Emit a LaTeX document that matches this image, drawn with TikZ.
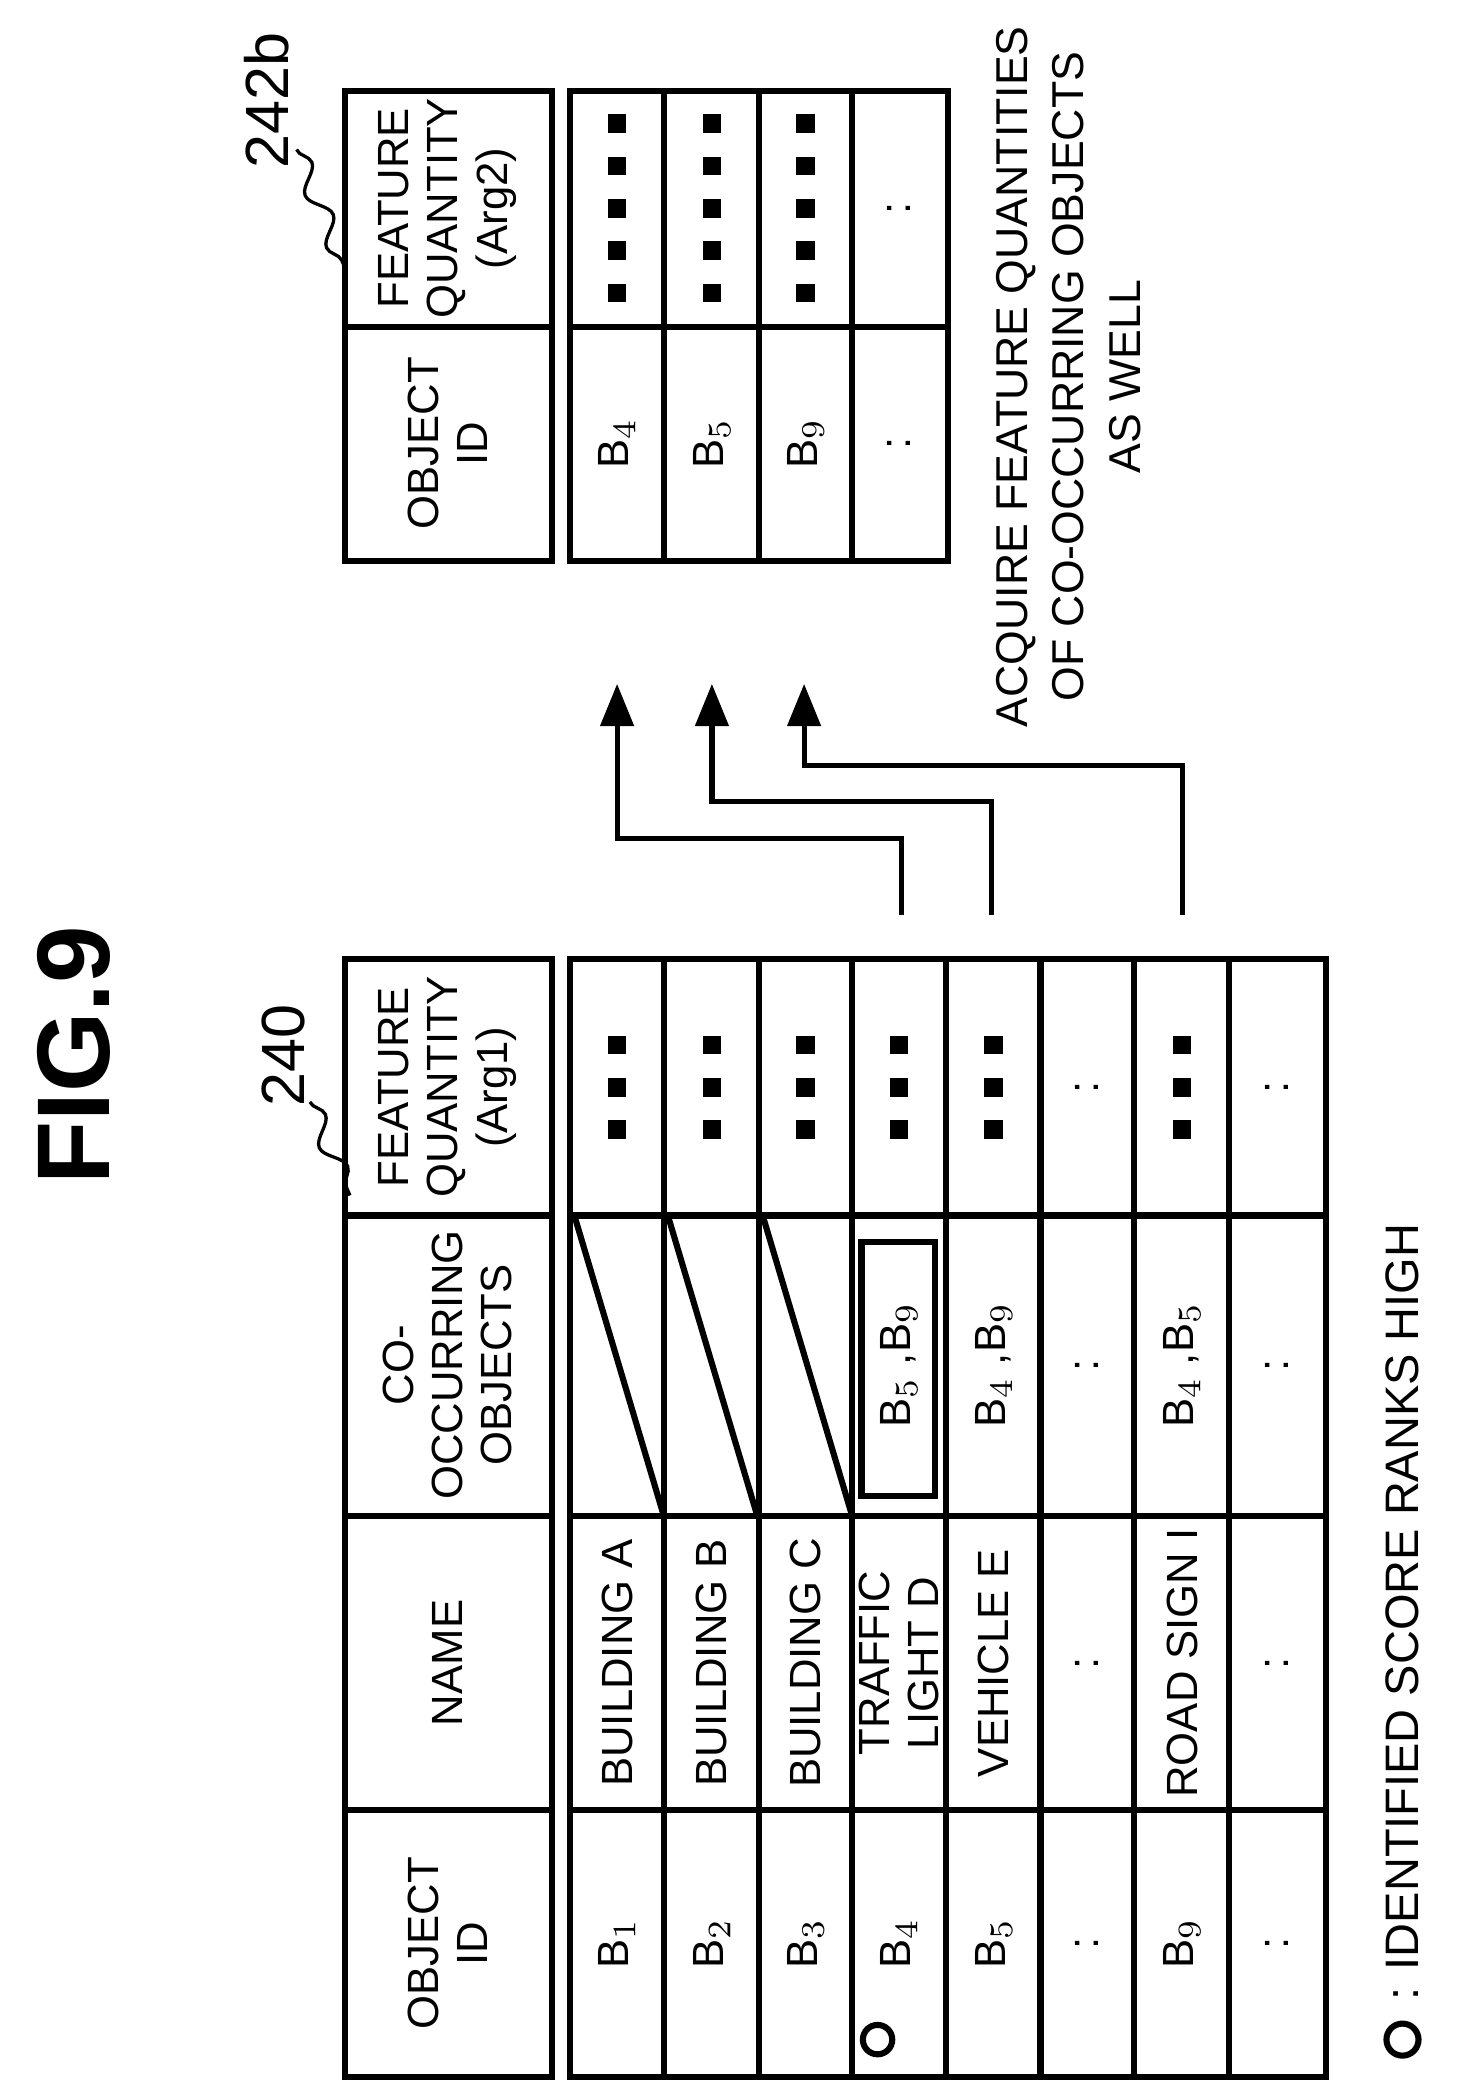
\documentclass[tikz,border=0pt]{standalone}
\usepackage{fontspec}
\setmainfont{Liberation Sans}
\usetikzlibrary{positioning,arrows.meta,decorations.pathmorphing}
\newcommand{\sqdots}[1]{\foreach \k in {1,...,#1}{\rule{4pt}{4pt}\hspace{5pt}}\unskip}
\begin{document}
\begin{tikzpicture}[x=0.01cm,y=-0.01cm,line width=1.3pt,
  txt/.style={rotate=90,inner sep=0pt,align=center,font=\fontsize{9.3}{10.5}\selectfont},
  big/.style={rotate=90,inner sep=0pt,font=\bfseries\fontsize{22}{24}\selectfont},
  squig/.style={line width=0.7pt,decorate,decoration={snake,amplitude=2pt,segment length=12pt}},
  feed/.style={line width=1.1pt,-{Triangle[length=9pt,width=7pt]}}]
\useasboundingbox (0,0) rectangle (1103,1558);
% title
\node[big] (fig) at (55,790) {FIG.9};
% table 240
\draw (258,718) rectangle (413,1555);
\draw (427,718) rectangle (993,1555);
\foreach \y in {910,1135,1355} \draw (258,\y) -- (413,\y) (427,\y) -- (993,\y);
\foreach \x in {497,568,638,708,779,849,920} \draw (\x,718) -- (\x,1555);
\foreach \x in {427,497,568} \draw ({\x+3},910) -- ({\x+70},1135);
\node[txt] (h1) at (335,1455) {OBJECT\\ID};
\node[txt] (h2) at (335,1245) {NAME};
\node[txt] (h3) at (335,1022) {CO-\\OCCURRING\\OBJECTS};
\node[txt] (h4) at (335,814) {FEATURE\\QUANTITY\\(Arg1)};
\foreach \c/\id/\nm/\co/\fq [count=\i] in {
  462/B$_1$/BUILDING A//{\sqdots{3}},
  533/B$_2$/BUILDING B//{\sqdots{3}},
  603/B$_3$/BUILDING C//{\sqdots{3}},
  673/B$_4$/{TRAFFIC\\LIGHT D}/{B$_5$ ,B$_9$}/{\sqdots{3}},
  744/B$_5$/VEHICLE E/{B$_4$ ,B$_9$}/{\sqdots{3}},
  814/:/:/:/:,
  885/B$_9$/ROAD SIGN I/{B$_4$ ,B$_5$}/{\sqdots{3}},
  956/:/:/:/:} {
  \node[txt] (id\i) at (\c,1455) {\id};
  \node[txt] (nm\i) at (\c,1245) {\nm};
  \node[txt] (co\i) at (\c,1022) {\co};
  \node[txt] (fq\i) at (\c,814) {\fq};
}
\draw (645,930) rectangle (700,1120);
\draw (657,1527) circle (11);
\node[txt] (t240) at (212,790) {\fontsize{13}{14}\selectfont 240};
\draw[squig] (232,825) -- (262,895);
% table 242b
\draw (258,68) rectangle (413,420);
\draw (427,68) rectangle (710,420);
\draw (258,245) -- (413,245) (427,245) -- (710,245);
\foreach \x in {497,568,638} \draw (\x,68) -- (\x,420);
\node[txt] (g1) at (335,332) {OBJECT\\ID};
\node[txt] (g2) at (335,156) {FEATURE\\QUANTITY\\(Arg2)};
\foreach \c/\id/\fq [count=\i] in {462/B$_4$/{\sqdots{5}},533/B$_5$/{\sqdots{5}},603/B$_9$/{\sqdots{5}},673/:/:} {
  \node[txt] (gid\i) at (\c,332) {\id};
  \node[txt] (gfq\i) at (\c,156) {\fq};
}
\node[txt] (t242) at (200,75) {\fontsize{13}{14}\selectfont 242b};
\draw[squig] (222,112) -- (258,200);
% arrows
\coordinate (s1) at (675,685); \coordinate (e1) at (462,512);
\coordinate (s2) at (742,685); \coordinate (e2) at (533,512);
\coordinate (s3) at (885,685); \coordinate (e3) at (602,512);
\draw[feed] (s1) |- (462,628) -- (e1);
\draw[feed] (s2) |- (533,600) -- (e2);
\draw[feed] (s3) |- (602,573) -- (e3);
\node[txt,font=\fontsize{9.5}{12}\selectfont] (note) at (800,282) {ACQUIRE FEATURE QUANTITIES\\OF CO-OCCURRING OBJECTS\\AS WELL};
% legend
\draw (1050,1527) circle (12);
\node[txt,anchor=west,font=\fontsize{10}{11}\selectfont] (leg) at (1050,1500) {: IDENTIFIED SCORE RANKS HIGH};
\end{tikzpicture}
\end{document}
